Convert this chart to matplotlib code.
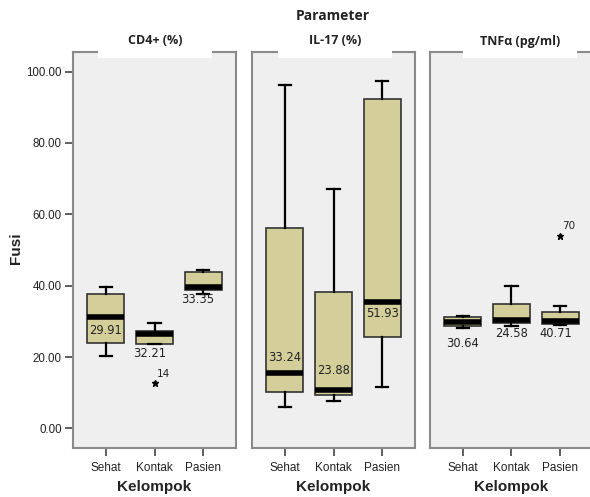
import matplotlib.pyplot as plt
from matplotlib.patches import Rectangle

W, H = 590, 497

# data
kelompok = ['Sehat', 'Kontak', 'Pasien']
parameter = ['CD4+ (%)', 'IL-17 (%)', 'TNF\u03b1 (pg/ml)']

# per panel: [Sehat, Kontak, Pasien]
whis_lo = [[20.4, 23.6, 37.7], [5.9, 7.7, 11.5], [28.0, 28.8, 28.9]]
q1 = [[23.9, 23.7, 38.8], [10.3, 9.4, 25.5], [28.7, 29.4, 29.2]]
median = [[31.1, 26.4, 39.5], [15.6, 10.8, 35.4], [29.9, 30.4, 30.1]]
q3 = [[37.7, 27.4, 43.7], [56.1, 38.2, 92.3], [31.3, 34.9, 32.5]]
whis_hi = [[39.5, 29.6, 44.3], [96.3, 67.0, 97.5], [31.6, 39.9, 34.3]]
outliers = [[[], [12.6], []], [[], [], []], [[], [], [53.9]]]
outlier_ids = [[[], ['14'], []], [[], [], []], [[], [], ['70']]]
labels = [['29.91', '32.21', '33.35'], ['33.24', '23.88', '51.93'], ['30.64', '24.58', '40.71']]

yticks = [0, 20, 40, 60, 80, 100]

# layout (label placement)
label_xy = [[(1.0, 27.3), (1.9, 20.9), (2.88, 36.0)],
            [(1.0, 19.9), (2.0, 16.3), (3.0, 32.3)],
            [(1.0, 23.8), (2.0, 26.6), (2.9, 26.6)]]

box_col = '#d4cf9a'
bg_col = '#efefef'
edge_col = '#8a8a8a'

fig = plt.figure(figsize=(W / 100, H / 100), dpi=100)

panel_left = [73, 252, 430]
panel_w = 163
top_px, bot_px = 52, 448
title_cx = [155, 335, 520]

for i in range(3):
    ax = fig.add_axes([panel_left[i] / W, 1 - bot_px / H, panel_w / W, (bot_px - top_px) / H])
    ax.set_facecolor(bg_col)
    stats = []
    for j in range(3):
        stats.append(dict(med=median[i][j], q1=q1[i][j], q3=q3[i][j],
                          whislo=whis_lo[i][j], whishi=whis_hi[i][j], fliers=[]))
    ax.bxp(stats, positions=[1, 2, 3], widths=0.75, patch_artist=True,
           boxprops=dict(facecolor=box_col, edgecolor='#333333', linewidth=1.2),
           medianprops=dict(color='black', linewidth=4, solid_capstyle='butt'),
           whiskerprops=dict(color='black', linewidth=1.6),
           capprops=dict(color='black', linewidth=1.6), capwidths=0.25,
           showfliers=False)
    for j in range(3):
        for v, lab in zip(outliers[i][j], outlier_ids[i][j]):
            ax.plot(j + 1, v, marker='*', color='black', markersize=5, linestyle='none')
            ax.annotate(lab, (j + 1, v), xytext=(1.5, 7), textcoords='offset points',
                        ha='left', va='center', fontsize=7.5, family='DejaVu Sans', color='#222222')
        lx, ly = label_xy[i][j]
        ax.text(lx, ly, labels[i][j], ha='center', va='center', fontsize=8.3,
                family='DejaVu Sans', color='#222222', zorder=6)
    ax.set_xlim(0.33, 3.67)
    ax.set_ylim(-5.5, 105.5)
    ax.set_xticks([1, 2, 3])
    ax.set_xticklabels(kelompok, family='Liberation Sans', fontsize=8.5, color='#222222')
    ax.tick_params(axis='x', length=6, width=1.2, color='#444444', pad=4)
    if i == 0:
        ax.set_yticks(yticks)
        ax.set_yticklabels(['%.2f' % t for t in yticks], family='Liberation Sans', fontsize=8.3, color='#222222')
        ax.tick_params(axis='y', length=6, width=1.2, color='#444444', pad=2)
    else:
        ax.set_yticks([])
    for s in ax.spines.values():
        s.set_color(edge_col)
        s.set_linewidth(1.5)
    # white notch for the panel title
    fig.patches.append(Rectangle(((title_cx[i] - 57) / W, 1 - 57.5 / H), 114 / W, 8 / H,
                                 transform=fig.transFigure, facecolor='white',
                                 edgecolor='none', zorder=5))
    fig.text(title_cx[i] / W, 1 - 41 / H, parameter[i], ha='center', va='center',
             fontsize=9, fontweight='bold', family='Open Sans', color='#222222')
    fig.text((panel_left[i] + panel_w / 2) / W, 1 - 487 / H, 'Kelompok', ha='center', va='center',
             fontsize=11, fontweight='bold', family='Liberation Sans', color='#222222')

fig.text(333 / W, 1 - 16 / H, 'Parameter', ha='center', va='center',
         fontsize=10, fontweight='bold', family='Open Sans', color='#222222')
fig.text(16 / W, 1 - 248 / H, 'Fusi', ha='center', va='center', rotation=90,
         fontsize=11, fontweight='bold', family='Liberation Sans', color='#222222')

fig.savefig('out.png', dpi=100)
